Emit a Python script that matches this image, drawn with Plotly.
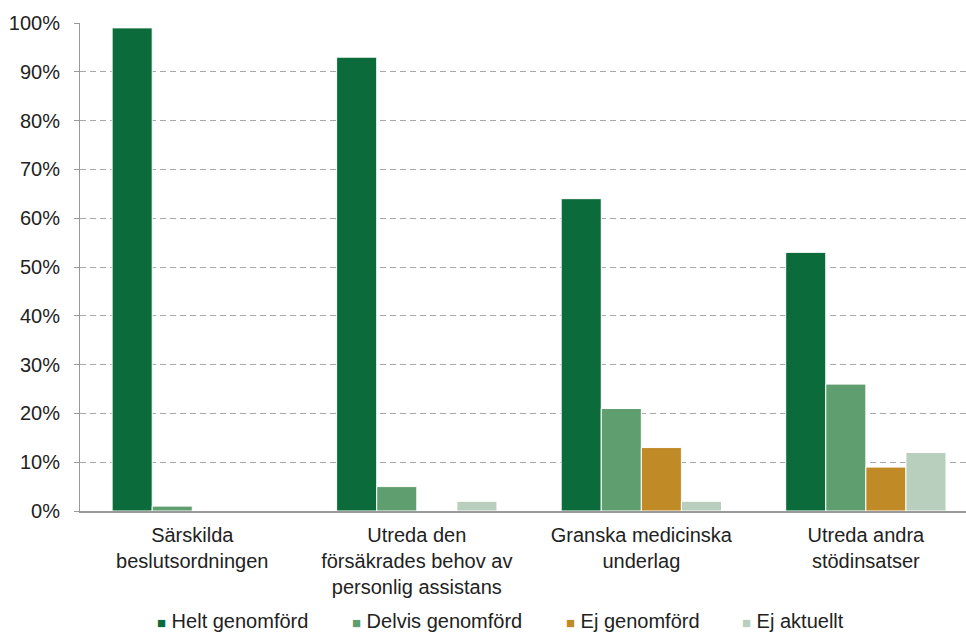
import plotly.graph_objects as go

categories = [
    "Särskilda<br>beslutsordningen",
    "Utreda den<br>försäkrades behov av<br>personlig assistans",
    "Granska medicinska<br>underlag",
    "Utreda andra<br>stödinsatser",
]
series_names = ["Helt genomförd", "Delvis genomförd", "Ej genomförd", "Ej aktuellt"]
helt = [99, 93, 64, 53]
delvis = [1, 5, 21, 26]
ej_genomford = [0, 0, 13, 9]
ej_aktuellt = [0, 2, 2, 12]
y_ticks = [0, 10, 20, 30, 40, 50, 60, 70, 80, 90, 100]

colors = ["#0b6b3b", "#5f9e6e", "#c08a26", "#b8cfbd"]
values = [helt, delvis, ej_genomford, ej_aktuellt]

font_family = "Liberation Sans, Arial, sans-serif"
FS = 20

W, H = 966, 634
ML, MR, MT, MB = 80, 0, 23, 123
plot_w = W - ML - MR
plot_h = H - MT - MB

fig = go.Figure()
for name, vals, col in zip(series_names, values, colors):
    fig.add_trace(go.Bar(
        x=list(range(len(categories))),
        y=vals,
        name=name,
        marker=dict(color=col, line=dict(color="white", width=1)),
        showlegend=False,
    ))

# Legend row built from series names and colours (square swatch + label)
legend_left_px = [156, 351, 565, 741]
legend_y_px = 621
for name, col, px in zip(series_names, colors, legend_left_px):
    fig.add_annotation(
        xref="paper", yref="paper",
        x=(px - ML) / plot_w,
        y=(H - MB - legend_y_px) / plot_h,
        xanchor="left", yanchor="middle",
        showarrow=False,
        borderpad=0,
        text=f"<span style='color:{col};font-size:15px'>■</span> {name}",
        font=dict(size=FS, color="#222222", family=font_family),
    )

fig.update_layout(
    width=W,
    height=H,
    barmode="group",
    bargap=0.286,
    bargroupgap=0,
    plot_bgcolor="white",
    paper_bgcolor="white",
    margin=dict(l=ML, r=MR, t=MT, b=MB, autoexpand=False),
    font=dict(family=font_family, size=FS, color="#222222"),
    showlegend=False,
    xaxis=dict(
        tickmode="array",
        tickvals=list(range(len(categories))),
        ticktext=categories,
        range=[-0.5, 3.446],
        showgrid=False,
        showline=True,
        linecolor="#9a9a9a",
        linewidth=2,
        ticks="",
        ticklabelstandoff=5,
        zeroline=False,
        automargin=False,
        tickfont=dict(size=FS),
    ),
    yaxis=dict(
        range=[0, 100],
        tickvals=y_ticks,
        ticktext=[f"{v}%" for v in y_ticks],
        showgrid=True,
        gridcolor="#a8a8a8",
        griddash="6px,4px",
        gridwidth=1,
        showline=True,
        linecolor="#9a9a9a",
        linewidth=1,
        ticks="outside",
        ticklen=5,
        tickcolor="#9a9a9a",
        ticklabelstandoff=10,
        zeroline=False,
        automargin=False,
        tickfont=dict(size=FS),
    ),
)

fig.write_html("out.html")
